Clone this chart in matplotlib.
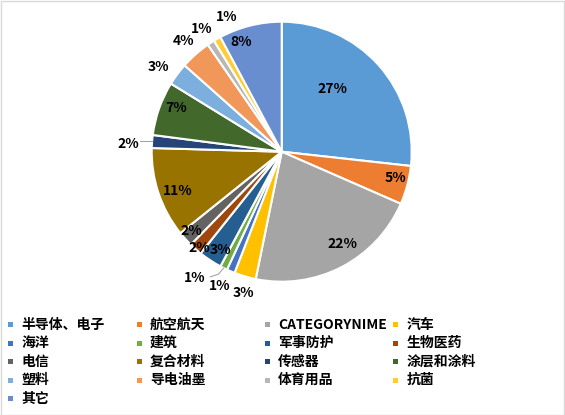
import numpy as np
import matplotlib
matplotlib.use("Agg")
import matplotlib.pyplot as plt
from matplotlib.patches import Rectangle

plt.rcParams['font.family'] = ['Noto Sans CJK SC', 'DejaVu Sans']

# data (percent shares)
categories = ["半导体、电子", "航空航天", "CATEGORYNIME", "汽车",
              "海洋", "建筑", "军事防护", "生物医药",
              "电信", "复合材料", "传感器", "涂层和涂料",
              "塑料", "导电油墨", "体育用品", "抗菌",
              "其它"]
shares = [26.7, 4.8, 21.6, 2.7,
          1.0, 0.9, 2.9, 1.6,
          1.9, 11.2, 1.6, 6.7,
          2.8, 3.8, 0.9, 0.9,
          7.8]

colors = ["#5B9BD5", "#ED7D31", "#A5A5A5", "#FFC000",
          "#4472C4", "#70AD47", "#255E91", "#9E480E",
          "#636363", "#997300", "#264478", "#43682B",
          "#7CAFDD", "#F1975A", "#B7B7B7", "#FFCD33",
          "#698ED0"]

# label placement: radius (in pie radii) and clockwise angle shift from slice middle
label_r = [0.62, 0.90, 0.85, 1.13, 1.14, 1.18, 0.89, 0.97, 0.925,
           0.85, 1.18, 0.88, 1.15, 1.14, 1.13, 1.12, 0.90]
label_shift = [-9, -2, -6, -1.2, 1.5, 8, -1.6, -1, 1,
               -2, -1.5, 3, -2, 0, 0, 7.6, -6]
leaders = {5, 10}

W, H = 565, 415
fig = plt.figure(figsize=(W / 100, H / 100), dpi=100)
fig.patches.append(Rectangle((0.5 / W, 0.5 / H), 1 - 1.5 / W, 1 - 1.5 / H,
                             transform=fig.transFigure, fill=False,
                             edgecolor="#d9d9d9", linewidth=1))

cx, cy, R = 281.7, 151.7, 130
ax = fig.add_axes([(cx - R) / W, (H - cy - R) / H, 2 * R / W, 2 * R / H])
wedges, _ = ax.pie(shares, colors=colors, startangle=90, counterclock=False,
                   wedgeprops=dict(edgecolor="white", linewidth=1.5))
ax.set_xlim(-1, 1)
ax.set_ylim(-1, 1)
ax.axis("off")

total = sum(shares)
for i, w in enumerate(wedges):
    mid = (w.theta1 + w.theta2) / 2
    ang = np.radians(mid - label_shift[i])
    r = label_r[i]
    pct = int(shares[i] / total * 100 + 0.5)
    ax.text(r * np.cos(ang), r * np.sin(ang), f"{pct}%", ha="center", va="center",
            fontsize=10, fontweight="bold", color="black")
    if i in leaders:
        m = np.radians(mid)
        x0, y0 = 1.0 * np.cos(m), 1.0 * np.sin(m)
        if i == 10:
            ax.plot([x0, x0 - 0.09], [y0, y0], color="#a6a6a6", lw=0.8, clip_on=False)
        else:
            x1 = r * np.cos(ang) + 0.12
            y1 = r * np.sin(ang) + 0.01
            ax.plot([x0, x0 - 0.04, x1], [y0, y1 + 0.02, y1], color="#a6a6a6",
                    lw=0.8, clip_on=False)

# legend, 4 equal-width columns like the original
x0, dx = 8.3, 128.2
y0, dy = 324.5, 18.5
for i, name in enumerate(categories):
    col, row = i % 4, i // 4
    x = x0 + col * dx
    y = y0 + row * dy
    fig.patches.append(Rectangle((x / W, (H - y - 2.5) / H), 5 / W, 5 / H,
                                 transform=fig.transFigure, facecolor=colors[i],
                                 edgecolor="none"))
    fig.text((x + 13.5) / W, (H - y) / H, name, ha="left", va="center",
             fontsize=10, fontweight="bold", color="black")

fig.savefig("out.png", dpi=100)
